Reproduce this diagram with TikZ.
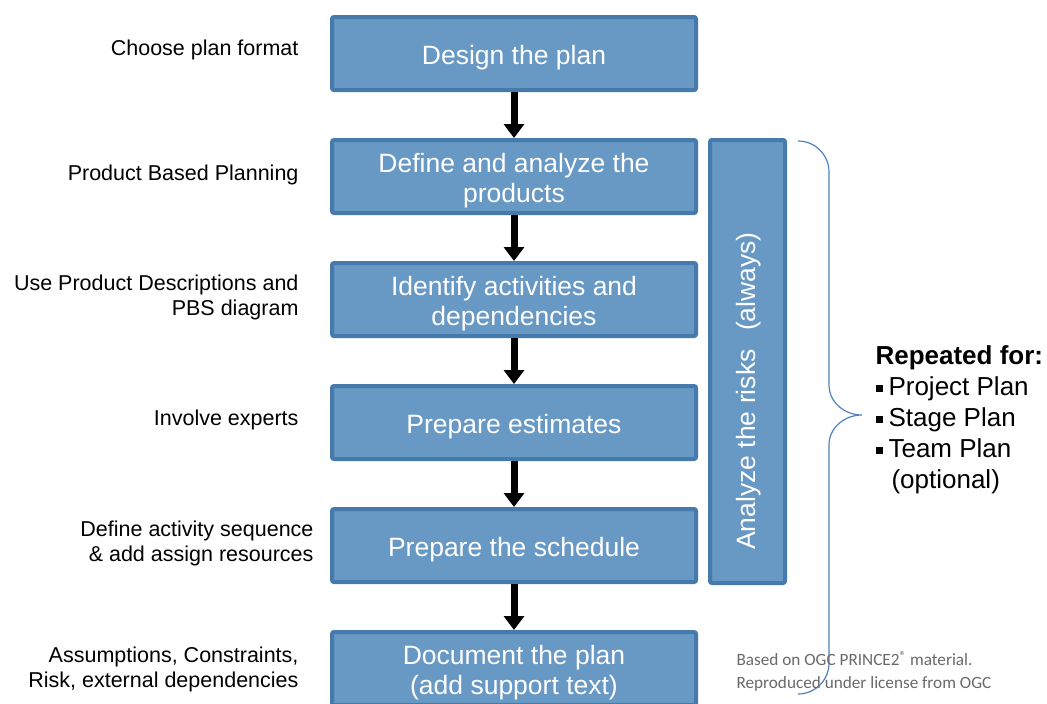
\documentclass[tikz,border=0pt]{standalone}
\usepackage{fontspec}
\setmainfont{Liberation Sans}
\newfontfamily\notefont{Carlito}
\usetikzlibrary{arrows.meta}

\definecolor{boxfill}{RGB}{104,152,196}
\definecolor{boxline}{RGB}{70,122,172}
\definecolor{bracecol}{RGB}{79,129,189}
\definecolor{notegray}{RGB}{105,105,105}

\begin{document}
\begin{tikzpicture}[x=1pt,y=-1pt,
    planbox/.style={draw=boxline,fill=boxfill,line width=4pt,rounded corners=2pt,
        minimum width=364pt,minimum height=73pt},
    boxtext/.style={text=white,align=center,yshift=-4pt,
        font=\fontsize{26.5}{30}\selectfont},
    hint/.style={anchor=east,align=right,font=\fontsize{21.5}{25}\selectfont},
    flow/.style={line width=7pt,-{Triangle[width=20pt,length=14pt]}}]
    \useasboundingbox (0,0) rectangle (1047,704);

    \node[planbox,label={[boxtext]center:{Design the plan}}] (design) at (514,53.5) {};
    \node[planbox,label={[boxtext]center:{Define and analyze the\\products}}] (define) at (514,176.5) {};
    \node[planbox,label={[boxtext]center:{Identify activities and\\dependencies}}] (identify) at (514,299.5) {};
    \node[planbox,label={[boxtext]center:{Prepare estimates}}] (estimate) at (514,422.5) {};
    \node[planbox,label={[boxtext]center:{Prepare the schedule}}] (schedule) at (514,545.5) {};
    \node[planbox,label={[boxtext]center:{Document the plan\\(add support text)}}] (document) at (514,668.5) {};

    \node[planbox,minimum width=75pt,minimum height=443pt] (risks) at (747.5,361.5) {};
    \node[text=white,rotate=90,font=\fontsize{26.5}{30}\selectfont] (risklabel) at (749,391)
        {Analyze the risks\hspace{0.7em}(always)};

    \draw[flow] (design) -- (define);
    \draw[flow] (define) -- (identify);
    \draw[flow] (identify) -- (estimate);
    \draw[flow] (estimate) -- (schedule);
    \draw[flow] (schedule) -- (document);

    \node[hint] (format) at (302,50) {Choose plan format};
    \node[hint] (pbp) at (302,175) {Product Based Planning};
    \node[hint] (descr) at (302,297) {Use Product Descriptions and\\PBS diagram};
    \node[hint] (experts) at (302,420) {Involve experts};
    \node[hint] (sequence) at (317,543) {Define activity sequence\\\& add assign resources};
    \node[hint] (assume) at (302,669) {Assumptions, Constraints,\\Risk, external dependencies};

    % brace
    \coordinate (bracetop) at (798,141);
    \coordinate (bracetip) at (862,415);
    \coordinate (bracebot) at (798,694);
    \draw[bracecol,line width=1.2pt] (bracetop) to[out=0,in=90] (829,172) -- (829,385)
        to[out=-90,in=180] (bracetip) to[out=180,in=90] (829,445) -- (829,663)
        to[out=-90,in=0] (bracebot);

    \node[anchor=north west,align=left,font=\fontsize{26}{31}\selectfont] (repeated) at (872,342)
        {\textbf{Repeated for:}\\
         \rule[3.5pt]{7pt}{7pt}\hspace{6pt}Project Plan\\
         \rule[3.5pt]{7pt}{7pt}\hspace{6pt}Stage Plan\\
         \rule[3.5pt]{7pt}{7pt}\hspace{6pt}Team Plan\\
         \hspace{16pt}(optional)};

    \node[anchor=north west,align=left,text=notegray,font=\notefont\fontsize{17.2}{23}\selectfont] (note) at (733,648)
        {Based on OGC PRINCE2{\fontsize{13}{13}\selectfont\raisebox{5pt}{®}} material.\\Reproduced under license from OGC};
\end{tikzpicture}
\end{document}
